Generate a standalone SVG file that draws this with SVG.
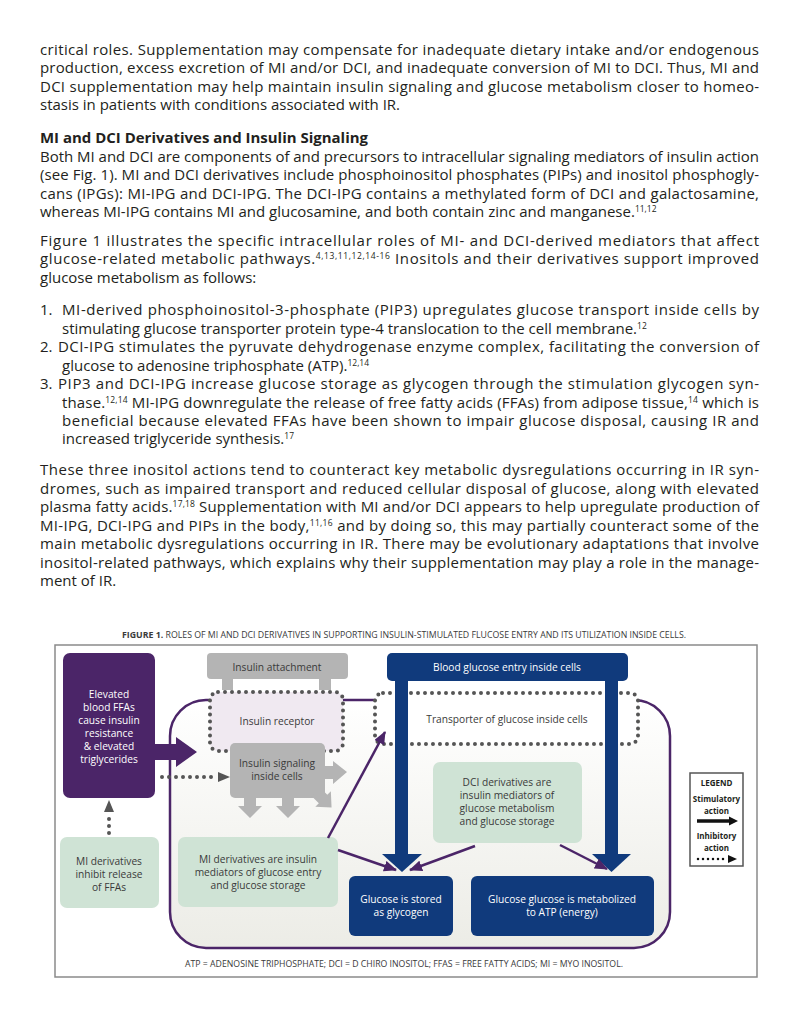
<svg xmlns="http://www.w3.org/2000/svg" width="800" height="1035" viewBox="0 0 800 1035">
<style>
.b{font-family:"Open Sans","Liberation Sans",sans-serif;font-size:15px;fill:#231f20}
.hd{font-family:"Open Sans","Liberation Sans",sans-serif;font-size:15px;font-weight:700;fill:#231f20}
.sup{font-size:8.5px}
.f{font-family:"Open Sans","Liberation Sans",sans-serif;font-size:10.2px;fill:#3a3a3a;text-anchor:middle}
.fw{font-family:"Open Sans","Liberation Sans",sans-serif;font-size:10.2px;fill:#ffffff;text-anchor:middle}
.cap{font-family:"Open Sans","Liberation Sans",sans-serif;font-size:8.5px;fill:#3a3a3a}
.lg{font-family:"Open Sans","Liberation Sans",sans-serif;font-size:8px;font-weight:700;fill:#231f20;text-anchor:middle}
.dot{fill:none;stroke:#555;stroke-width:4;stroke-dasharray:0 7;stroke-linecap:round}
.pa{fill:none;stroke:#4b2568;stroke-width:2.5;marker-end:url(#ph)}
.navy{fill:#103a7c}
.purple{fill:#4b2568}
.gray{fill:#b4b4b4}
.green{fill:#cfe3d5}
</style>
<defs>
<marker id="ph" markerUnits="userSpaceOnUse" markerWidth="13" markerHeight="11" refX="12" refY="5.5" orient="auto">
<path d="M0,0 L13,5.5 L0,11 z" fill="#4b2568"/>
</marker>
<linearGradient id="cellg" x1="0" y1="0" x2="0" y2="1">
<stop offset="0" stop-color="#ffffff"/>
<stop offset="1" stop-color="#ecece6"/>
</linearGradient>
</defs>
<rect width="800" height="1035" fill="#ffffff"/>

<!-- body text -->
<g id="body">
<text class="b" x="40" y="55" textLength="719" lengthAdjust="spacing">critical roles. Supplementation may compensate for inadequate dietary intake and/or endogenous</text>
<text class="b" x="40" y="73" textLength="719" lengthAdjust="spacing">production, excess excretion of MI and/or DCI, and inadequate conversion of MI to DCI. Thus, MI and</text>
<text class="b" x="40" y="92" textLength="719" lengthAdjust="spacing">DCI supplementation may help maintain insulin signaling and glucose metabolism closer to homeo-</text>
<text class="b" x="40" y="110">stasis in patients with conditions associated with IR.</text>
<text class="hd" x="40" y="143" textLength="328" lengthAdjust="spacingAndGlyphs">MI and DCI Derivatives and Insulin Signaling</text>
<text class="b" x="40" y="162" textLength="719" lengthAdjust="spacing">Both MI and DCI are components of and precursors to intracellular signaling mediators of insulin action</text>
<text class="b" x="40" y="180" textLength="719" lengthAdjust="spacing">(see Fig. 1). MI and DCI derivatives include phosphoinositol phosphates (PIPs) and inositol phosphogly-</text>
<text class="b" x="40" y="199" textLength="719" lengthAdjust="spacing">cans (IPGs): MI-IPG and DCI-IPG. The DCI-IPG contains a methylated form of DCI and galactosamine,</text>
<text class="b" x="40" y="217">whereas MI-IPG contains MI and glucosamine, and both contain zinc and manganese.<tspan class="sup" dy="-5">11,12</tspan></text>
<text class="b" x="40" y="246" textLength="719" lengthAdjust="spacing">Figure 1 illustrates the specific intracellular roles of MI- and DCI-derived mediators that affect</text>
<text class="b" x="40" y="264" textLength="719" lengthAdjust="spacing">glucose-related metabolic pathways.<tspan class="sup" dy="-5">4,13,11,12,14-16</tspan><tspan dy="5"> Inositols and their derivatives support improved</tspan></text>
<text class="b" x="40" y="283">glucose metabolism as follows:</text>
<text class="b" x="40" y="315">1.</text>
<text class="b" x="62" y="315" textLength="697" lengthAdjust="spacing">MI-derived phosphoinositol-3-phosphate (PIP3) upregulates glucose transport inside cells by</text>
<text class="b" x="62" y="334">stimulating glucose transporter protein type-4 translocation to the cell membrane.<tspan class="sup" dy="-5">12</tspan></text>
<text class="b" x="40" y="352">2.</text>
<text class="b" x="58" y="352" textLength="701" lengthAdjust="spacing">DCI-IPG stimulates the pyruvate dehydrogenase enzyme complex, facilitating the conversion of</text>
<text class="b" x="62" y="371">glucose to adenosine triphosphate (ATP).<tspan class="sup" dy="-5">12,14</tspan></text>
<text class="b" x="40" y="389">3.</text>
<text class="b" x="58" y="389" textLength="701" lengthAdjust="spacing">PIP3 and DCI-IPG increase glucose storage as glycogen through the stimulation glycogen syn-</text>
<text class="b" x="62" y="408" textLength="697" lengthAdjust="spacing">thase.<tspan class="sup" dy="-5">12,14</tspan><tspan dy="5"> MI-IPG downregulate the release of free fatty acids (FFAs) from adipose tissue,</tspan><tspan class="sup" dy="-5">14</tspan><tspan dy="5"> which is</tspan></text>
<text class="b" x="62" y="426" textLength="697" lengthAdjust="spacing">beneficial because elevated FFAs have been shown to impair glucose disposal, causing IR and</text>
<text class="b" x="62" y="444">increased triglyceride synthesis.<tspan class="sup" dy="-5">17</tspan></text>
<text class="b" x="40" y="475" textLength="719" lengthAdjust="spacing">These three inositol actions tend to counteract key metabolic dysregulations occurring in IR syn-</text>
<text class="b" x="40" y="494" textLength="719" lengthAdjust="spacing">dromes, such as impaired transport and reduced cellular disposal of glucose, along with elevated</text>
<text class="b" x="40" y="512" textLength="719" lengthAdjust="spacing">plasma fatty acids.<tspan class="sup" dy="-5">17,18</tspan><tspan dy="5"> Supplementation with MI and/or DCI appears to help upregulate production of</tspan></text>
<text class="b" x="40" y="531" textLength="719" lengthAdjust="spacing">MI-IPG, DCI-IPG and PIPs in the body,<tspan class="sup" dy="-5">11,16</tspan><tspan dy="5"> and by doing so, this may partially counteract some of the</tspan></text>
<text class="b" x="40" y="549" textLength="719" lengthAdjust="spacing">main metabolic dysregulations occurring in IR. There may be evolutionary adaptations that involve</text>
<text class="b" x="40" y="568" textLength="719" lengthAdjust="spacing">inositol-related pathways, which explains why their supplementation may play a role in the manage-</text>
<text class="b" x="40" y="586">ment of IR.</text>
</g>

<!-- figure frame and caption -->
<g id="figure-frame">
<text class="cap" x="122" y="638" textLength="564" lengthAdjust="spacingAndGlyphs"><tspan font-weight="700">FIGURE 1.</tspan> ROLES OF MI AND DCI DERIVATIVES IN SUPPORTING INSULIN-STIMULATED FLUCOSE ENTRY AND ITS UTILIZATION INSIDE CELLS.</text>
<rect x="55" y="645" width="702" height="332" fill="#ffffff" stroke="#8a8a8a" stroke-width="1.5"/>
<text class="cap" x="185" y="967" textLength="438" lengthAdjust="spacingAndGlyphs">ATP = ADENOSINE TRIPHOSPHATE; DCI = D CHIRO INOSITOL; FFAS = FREE FATTY ACIDS; MI = MYO INOSITOL.</text>
</g>

<!-- cell membrane -->
<g id="cell">
<rect x="170" y="700" width="500" height="248" rx="36" fill="url(#cellg)" stroke="#4b2568" stroke-width="2.5"/>
</g>

<g id="insulin-receptor">
<rect x="210" y="692" width="133" height="59" rx="8" fill="#f0e9f1"/>
<rect x="210" y="692" width="133" height="59" rx="8" class="dot"/>
<text class="f" x="277" y="725">Insulin receptor</text>
</g>

<g id="transporter">
<rect x="375" y="693" width="263" height="51" rx="8" fill="#ffffff"/>
<rect x="375" y="693" width="263" height="51" rx="8" class="dot"/>
<text class="f" x="507" y="723">Transporter of glucose inside cells</text>
</g>

<g id="insulin-attachment">
<rect x="207" y="653" width="141" height="26" rx="4" class="gray"/>
<rect x="222" y="676" width="11" height="14" class="gray"/>
<rect x="319" y="676" width="12" height="14" class="gray"/>
<text class="f" x="277" y="671">Insulin attachment</text>
</g>

<g id="insulin-signaling">
<rect x="230" y="743" width="95" height="55" rx="5" class="gray"/>
<polygon points="323,766 333,766 333,761 347,772 333,784 333,779 323,779" class="gray"/>
<polygon points="244,796 256,796 256,806 262,806 250,818 238,806 244,806" class="gray"/>
<polygon points="282,796 294,796 294,806 300,806 288,818 276,806 282,806" class="gray"/>
<g transform="translate(316,792) rotate(45)"><polygon points="0,-6 10,-6 10,-11 22,0 10,11 10,6 0,6" class="gray"/></g>
<text class="f" x="277" y="767">Insulin signaling</text>
<text class="f" x="277" y="780">inside cells</text>
</g>

<g id="elevated-ffas">
<rect x="63" y="653" width="92" height="145" rx="7" class="purple"/>
<polygon points="150,744 176,744 176,737 197,752 176,767 176,760 150,760" class="purple"/>
<text class="fw" x="109" y="698">Elevated</text>
<text class="fw" x="109" y="711">blood FFAs</text>
<text class="fw" x="109" y="724">cause insulin</text>
<text class="fw" x="109" y="737">resistance</text>
<text class="fw" x="109" y="750">&amp; elevated</text>
<text class="fw" x="109" y="763">triglycerides</text>
</g>

<g id="blood-glucose-entry">
<rect x="387" y="653" width="241" height="28" rx="5" class="navy"/>
<rect x="395" y="678" width="13" height="177" class="navy"/>
<polygon points="382,854 422,854 402,872" class="navy"/>
<rect x="605" y="678" width="13" height="177" class="navy"/>
<polygon points="592,854 631,854 611.5,872" class="navy"/>
<text class="fw" x="507" y="671">Blood glucose entry inside cells</text>
</g>

<g id="dci-derivatives">
<rect x="433" y="762" width="149" height="81" rx="7" class="green"/>
<text class="f" x="507" y="786">DCI derivatives are</text>
<text class="f" x="507" y="799">insulin mediators of</text>
<text class="f" x="507" y="812">glucose metabolism</text>
<text class="f" x="507" y="825">and glucose storage</text>
</g>

<g id="mi-derivatives-mediators">
<rect x="178" y="837" width="160" height="70" rx="7" class="green"/>
<text class="f" x="258" y="863">MI derivatives are insulin</text>
<text class="f" x="258" y="876">mediators of glucose entry</text>
<text class="f" x="258" y="889">and glucose storage</text>
</g>

<g id="mi-derivatives-inhibit">
<rect x="60" y="837" width="99" height="71" rx="7" class="green"/>
<text class="f" x="109" y="865">MI derivatives</text>
<text class="f" x="109" y="878">inhibit release</text>
<text class="f" x="109" y="891">of FFAs</text>
</g>

<g id="glucose-stored">
<rect x="349" y="876" width="104" height="60" rx="6" class="navy"/>
<text class="fw" x="401" y="903">Glucose is stored</text>
<text class="fw" x="401" y="916">as glycogen</text>
</g>

<g id="glucose-metabolized">
<rect x="471" y="876" width="183" height="60" rx="6" class="navy"/>
<text class="fw" x="562" y="903">Glucose glucose is metabolized</text>
<text class="fw" x="562" y="916">to ATP (energy)</text>
</g>

<g id="connectors">
<path class="pa" d="M328,838 L385,732"/>
<path class="pa" d="M338,850 L396,870"/>
<path class="pa" d="M475,846 L410,870"/>
<path class="pa" d="M560,845 L607,869"/>
<path class="dot" d="M162,777 L218,777"/>
<polygon points="218,772 230,777 218,782" fill="#555"/>
<path class="dot" d="M109,833 L109,815"/>
<polygon points="104,812 109,800 114,812" fill="#555"/>
</g>

<g id="legend">
<rect x="690" y="773" width="53" height="93" fill="#ffffff" stroke="#555" stroke-width="1.5"/>
<text class="lg" x="716.5" y="786">LEGEND</text>
<text class="lg" x="716.5" y="802">Stimulatory</text>
<text class="lg" x="716.5" y="814">action</text>
<line x1="697" y1="821" x2="730" y2="821" stroke="#111" stroke-width="3.5"/>
<polygon points="729,816.5 738,821 729,825.5" fill="#111"/>
<text class="lg" x="716.5" y="839">Inhibitory</text>
<text class="lg" x="716.5" y="851">action</text>
<path d="M698,859 L726,859" fill="none" stroke="#111" stroke-width="2.5" stroke-dasharray="0 5" stroke-linecap="round"/>
<polygon points="728,855 737,859 728,863" fill="#111"/>
</g>
</svg>
